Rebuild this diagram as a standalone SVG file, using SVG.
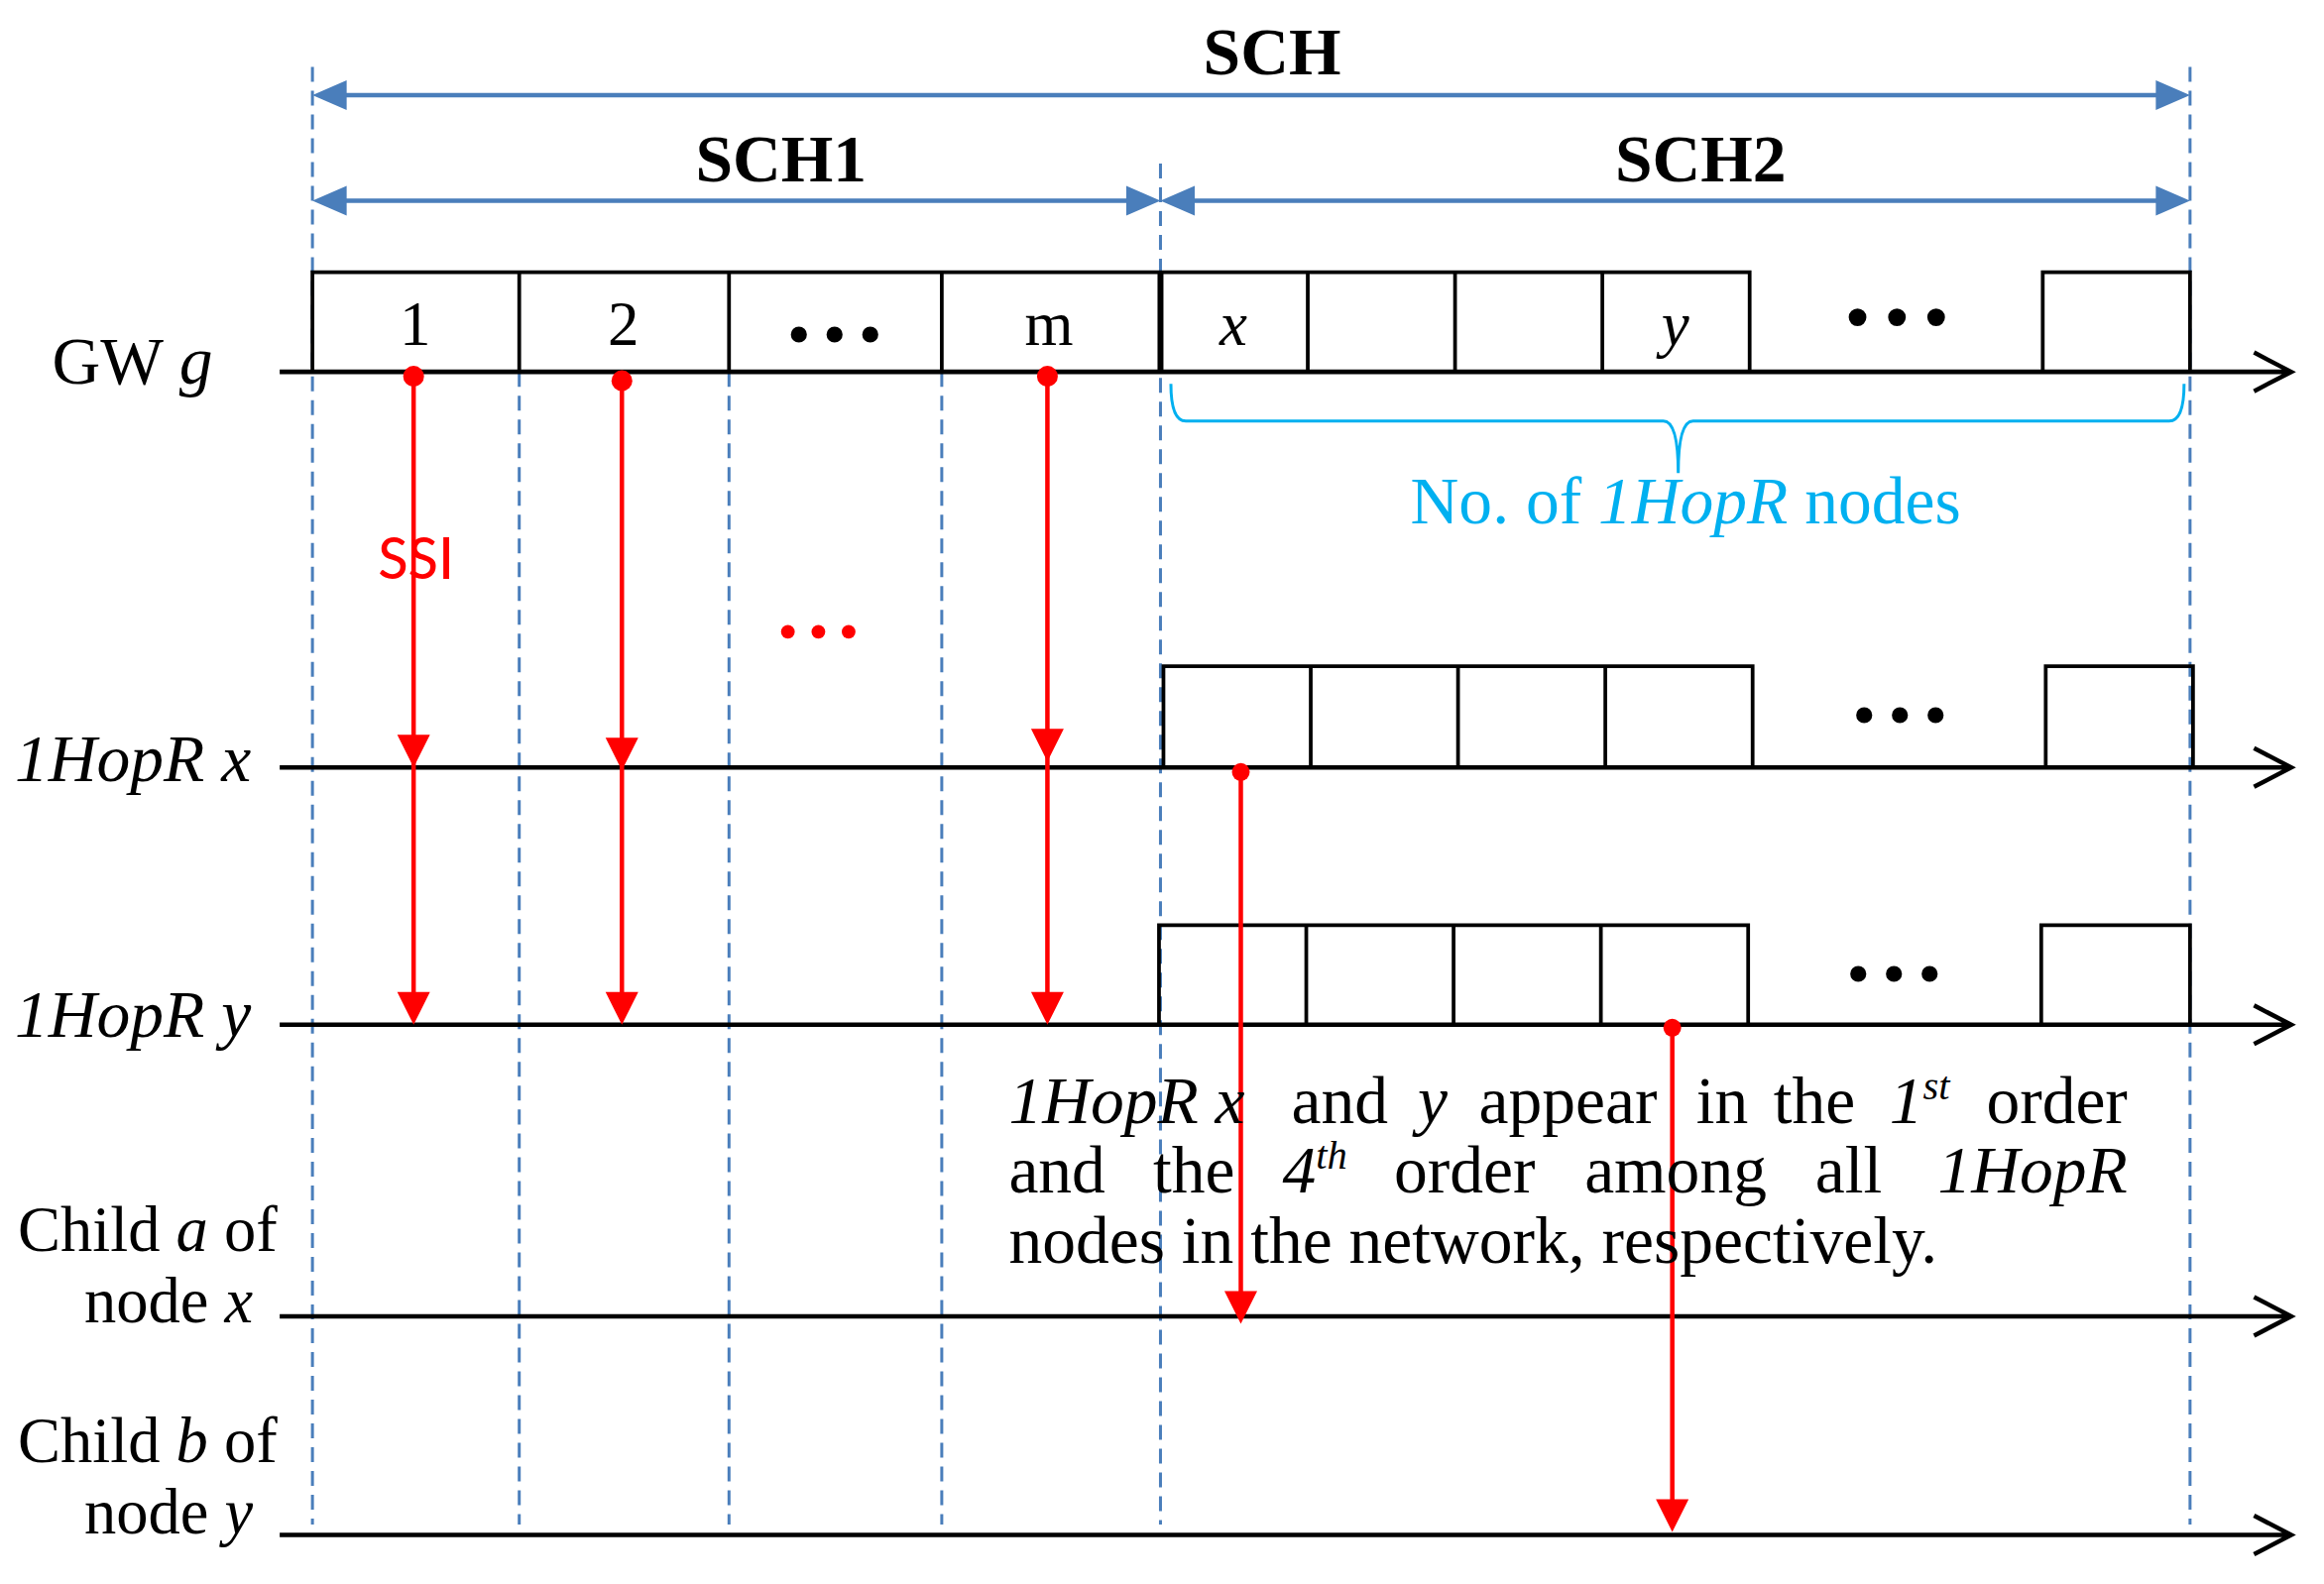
<svg xmlns="http://www.w3.org/2000/svg" width="2344" height="1598" viewBox="0 0 2344 1598">
<style>
.t{font-family:"Liberation Serif","Times New Roman",serif;fill:#000}
.i{font-style:italic}
.b{font-weight:bold}
.dash{stroke:#4a7ebb;stroke-width:2;stroke-dasharray:10 6;fill:none}
.blue{stroke:#4a7ebb;stroke-width:3;fill:none}
.bh{fill:#4a7ebb}
.slot{fill:none;stroke:#000;stroke-width:2.5}
.axis{stroke:#000;stroke-width:3;fill:none}
.red{stroke:#ff0000;stroke-width:3;fill:none}
.rh{fill:#ff0000}
</style>
<rect width="2344" height="1598" fill="#fff"/>
<g transform="scale(1.5006,1.5005)">
<g id="guides">
<path class="dash" d="M210 45V1025M1472 45V1025M780 110V1025M349 250V1025M490 250V1025M633 250V1025"/>
</g>
<g id="spans">
<path class="blue" d="M225 64H1457M225 135H765M795 135H1457"/>
<path class="bh" d="M210 64L233 54V74zM1472 64L1449 54V74zM210 135L233 125V145zM780 135L757 125V145zM780 135L803 125V145zM1472 135L1449 125V145z"/>
<text class="t b" x="855" y="50" font-size="45" text-anchor="middle">SCH</text>
<text class="t b" x="525" y="122" font-size="45" text-anchor="middle">SCH1</text>
<text class="t b" x="1143" y="122" font-size="45" text-anchor="middle">SCH2</text>
</g>
<g id="gw">
<path class="slot" d="M210 250V183H1176V250M349 183V250M490 183V250M633 183V250M879 183V250M978 183V250M1077 183V250M1373 250V183H1472V250"/>
<path d="M780 183V250" stroke="#000" stroke-width="4"/>
<path class="axis" d="M188 250H1540M1515 237L1540 250L1515 263"/>
<text class="t" x="279" y="232" font-size="42" text-anchor="middle">1</text>
<text class="t" x="419" y="232" font-size="42" text-anchor="middle">2</text>
<text class="t b" x="561" y="238" font-size="40" text-anchor="middle">• • •</text>
<text class="t" x="705" y="232" font-size="42" text-anchor="middle">m</text>
<text class="t i" x="829" y="232" font-size="42" text-anchor="middle">x</text>
<text class="t i" x="1126" y="232" font-size="42" text-anchor="middle">y</text>
<text class="t b" x="1275" y="228" font-size="44" text-anchor="middle">• • •</text>
<text class="t" x="35" y="258" font-size="45">GW <tspan class="i">g</tspan></text>
</g>
<g id="hopx">
<path class="slot" d="M782 516V448H1178V516M881 448V516M980 448V516M1079 448V516M1375 516V448H1474V516"/>
<path class="axis" d="M188 516H1540M1515 503L1540 516L1515 529"/>
<text class="t b" x="1277" y="494" font-size="40" text-anchor="middle">• • •</text>
<text class="t i" x="10" y="525" font-size="45">1HopR x</text>
</g>
<g id="hopy">
<path class="slot" d="M779 689V622H1175V689M878 622V689M977 622V689M1076 622V689M1372 689V622H1472V689"/>
<path class="axis" d="M188 689H1540M1515 676L1540 689L1515 702"/>
<text class="t b" x="1273" y="668" font-size="40" text-anchor="middle">• • •</text>
<text class="t i" x="10" y="697" font-size="45">1HopR y</text>
</g>
<g id="childa">
<path class="axis" d="M188 885H1540M1515 872L1540 885L1515 898"/>
<text class="t" x="12" y="841" font-size="43">Child <tspan class="i">a</tspan> of</text>
<text class="t" x="170" y="889" font-size="43" text-anchor="end">node <tspan class="i">x</tspan></text>
</g>
<g id="childb">
<path class="axis" d="M188 1032H1540M1515 1019L1540 1032L1515 1045"/>
<text class="t" x="12" y="983" font-size="43">Child <tspan class="i">b</tspan> of</text>
<text class="t" x="170" y="1031" font-size="43" text-anchor="end">node <tspan class="i">y</tspan></text>
</g>
<g id="brace">
<path d="M787 258Q787 283 797 283H1118Q1128 283 1128 318Q1128 283 1138 283H1458Q1468 283 1468 258" fill="none" stroke="#00b0f0" stroke-width="2"/>
<text class="t" x="1133" y="352" font-size="45" text-anchor="middle" style="fill:#00b0f0">No. of <tspan class="i">1HopR</tspan> nodes</text>
</g>
<g id="connectors">
<g fill="#ff0000">
<circle cx="278" cy="253" r="7"/><circle cx="418" cy="256" r="7"/><circle cx="704" cy="253" r="7"/>
<circle cx="834" cy="519" r="6"/><circle cx="1124" cy="691" r="6"/>
</g>
<path class="red" d="M278 253V680M418 256V680M704 253V680M834 519V870M1124 691V1010"/>
<path class="rh" d="M267 494H289L278 516zM267 667H289L278 689zM407 496H429L418 518zM407 667H429L418 689zM693 490H715L704 512zM693 667H715L704 689zM823 868H845L834 890zM1113 1008H1135L1124 1030z"/>
<text x="254" y="389" font-size="44" font-family="Carlito,'Liberation Sans',sans-serif" fill="#ff0000">SSI</text>
<text x="550" y="436" font-size="34" font-family="'Liberation Serif',serif" fill="#ff0000" font-weight="bold" text-anchor="middle">• • •</text>
</g>
<g id="note" class="t" font-size="45">
<text y="755"><tspan class="i" x="678">1HopR x</tspan><tspan x="868">and</tspan><tspan class="i" x="953">y</tspan><tspan x="994">appear</tspan><tspan x="1140">in</tspan><tspan x="1192">the</tspan><tspan class="i" x="1270">1</tspan><tspan class="i" font-size="27" dy="-16">st</tspan><tspan x="1430" dy="16" text-anchor="end">order</tspan></text>
<text y="802"><tspan x="678">and</tspan><tspan x="775">the</tspan><tspan class="i" x="862">4</tspan><tspan class="i" font-size="27" dy="-16">th</tspan><tspan x="937" dy="16">order</tspan><tspan x="1065">among</tspan><tspan x="1220">all</tspan><tspan class="i" x="1430" text-anchor="end">1HopR</tspan></text>
<text x="678" y="849">nodes in the network, respectively.</text>
</g>
</g>
</svg>
